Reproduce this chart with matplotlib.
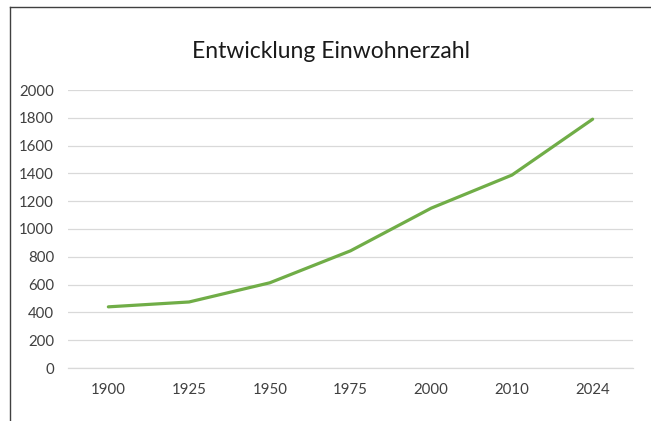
import matplotlib
matplotlib.use("Agg")
import matplotlib.pyplot as plt
from matplotlib.lines import Line2D

years = ["1900", "1925", "1950", "1975", "2000", "2010", "2024"]
population = [440, 475, 613, 843, 1150, 1388, 1790]
y_ticks = [0, 200, 400, 600, 800, 1000, 1200, 1400, 1600, 1800, 2000]
title = "Entwicklung Einwohnerzahl"

W, H = 651, 421
fig = plt.figure(figsize=(W / 100, H / 100), dpi=100)
fig.patch.set_facecolor("white")

font = ["Lato", "DejaVu Sans"]

ax = fig.add_axes([68 / W, 53 / H, (633 - 68) / W, (368 - 90) / H])
x = list(range(len(years)))
ax.plot(x, population, color="#70AD47", linewidth=2.3, solid_capstyle="round",
        solid_joinstyle="round", zorder=3)
ax.set_xlim(-0.5, len(years) - 0.5)
ax.set_ylim(0, 2000)
ax.set_yticks(y_ticks)
ax.set_yticklabels([str(v) for v in y_ticks], fontsize=10.8, color="#404040", family=font)
ax.set_xticks(x)
ax.set_xticklabels(years, fontsize=10.8, color="#404040", family=font)
ax.tick_params(axis="both", length=0)
ax.tick_params(axis="y", pad=10)
ax.tick_params(axis="x", pad=11)
ax.grid(axis="y", color="#D9D9D9", linewidth=0.9)
ax.set_axisbelow(True)
for s in ax.spines.values():
    s.set_visible(False)
ax.spines["bottom"].set_visible(True)
ax.spines["bottom"].set_color("#D9D9D9")
ax.spines["bottom"].set_linewidth(0.9)

fig.text(331 / W, 1 - 52 / H, title, ha="center", va="center", fontsize=16.5,
         color="#1a1a1a", family=font)

# chart-area border (cropped on the right and bottom)
fig.add_artist(Line2D([10 / W, 1.0], [1 - 7 / H, 1 - 7 / H], transform=fig.transFigure,
                      color="#404040", linewidth=1.0))
fig.add_artist(Line2D([10 / W, 10 / W], [0.0, 1 - 7 / H], transform=fig.transFigure,
                      color="#404040", linewidth=1.0))

fig.savefig("out.png", dpi=100)
